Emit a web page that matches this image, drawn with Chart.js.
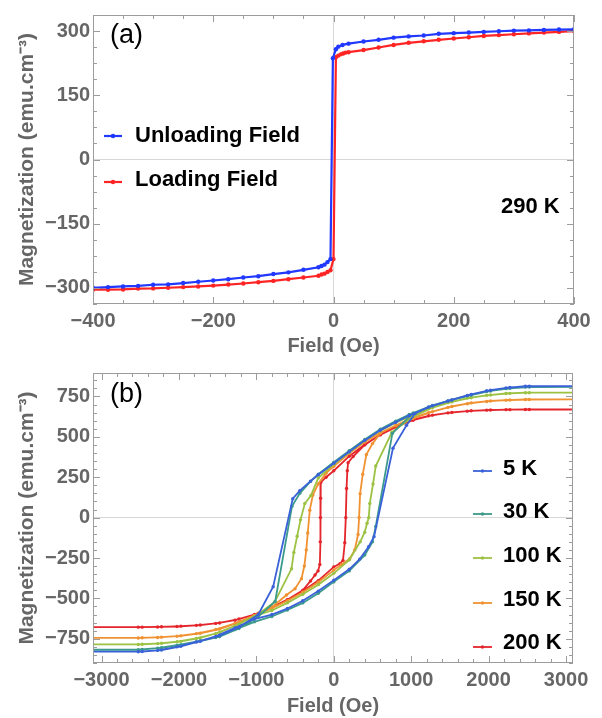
<!DOCTYPE html>
<html>
<head>
<meta charset="utf-8">
<script src="https://cdn.jsdelivr.net/npm/chart.js@4.4.1/dist/chart.umd.min.js"></script>
<style>
  html, body { margin: 0; padding: 0; background: #fff; }
  #wrap { position: relative; width: 602px; height: 718px; }
  canvas { position: absolute; left: 0; }
  #chartA { top: 0; }
  #chartB { top: 358px; }
</style>
</head>
<body>
<div id="wrap">
  <canvas id="chartA" width="602" height="358"></canvas>
  <canvas id="chartB" width="602" height="360"></canvas>
</div>
<script>
const FONT = "'Liberation Sans', Arial, sans-serif";
Chart.defaults.font.family = FONT;

// (a) 290 K loop
const xTicksA = [-400, -200, 0, 200, 400];
const yTicksA = [-300, -150, 0, 150, 300];

const fieldUnload = [400, 375, 350, 325, 300, 275, 250, 225, 200, 175, 150, 125, 100, 75, 50, 25, 15, 8, 4, -1,
  -5, -10, -15, -20, -25, -50, -75, -100, -125, -150, -175, -200, -225, -250, -275, -300, -325, -350, -375, -400];
const momentUnload = [304.5, 304, 303, 302, 301.5, 300, 298.5, 297, 295.5, 294, 290, 288, 285, 280, 276, 271, 268, 264, 258, 237,
  -233, -240, -246, -249, -252, -258, -264, -268, -273, -276, -280, -283, -286, -289, -292, -293, -295.5, -297, -298.5, -300];

const fieldLoad = [-400, -375, -350, -325, -300, -275, -250, -225, -200, -175, -150, -125, -100, -75, -50, -25, -20, -15, -10, -5, 0,
  4, 8, 12, 16, 20, 25, 50, 75, 100, 125, 150, 175, 200, 225, 250, 275, 300, 325, 350, 375, 400];
const momentLoad = [-304.5, -304.5, -304, -302, -301.5, -300, -298.5, -297, -295, -292.5, -290, -287, -284, -280, -276, -272, -269, -267, -263, -259, -233,
  239, 243, 246, 248, 250, 251, 256, 262, 268, 273, 276.5, 280, 283, 286, 289, 291, 293, 295, 297, 298.5, 300.5];

// (b) loops at low temperature, descending branch then ascending branch
const xTicksB = [-3000, -2000, -1000, 0, 1000, 2000, 3000];
const yTicksB = [-750, -500, -250, 0, 250, 500, 750];

const field5K = [4000, 2475, 2225, 1975, 1725, 1475, 1225, 975, 800, 600, 400, 200, 0, -200, -300, -439, -530, -783, -975, -1225, -1475, -1725, -1975, -2225, -2475, -4000,
  -2525, -2275, -2025, -1775, -1525, -1275, -1025, -800, -600, -400, -200, 0, 200, 335, 450, 520, 765, 940, 1050, 1275, 1525, 1775, 2025, 2275, 2525, 4000];
const moment5K = [816, 813, 803, 785, 756, 722, 684, 632, 590, 540, 478, 408, 336, 265, 226, 167, 117, -428, -600, -678, -730, -765, -797, -820, -829, -830,
  -830, -822, -800, -770, -735, -683, -628, -600, -563, -515, -455, -388, -320, -257, -180, -118, 430, 571, 645, 692, 728, 762, 789, 806, 814, 816];

const field30K = [4000, 2475, 2225, 1975, 1725, 1475, 1225, 975, 800, 600, 400, 200, 0, -200, -300, -439, -540, -757, -975, -1225, -1475, -1725, -1975, -2225, -2475, -4000,
  -2525, -2275, -2025, -1775, -1525, -1275, -1025, -800, -600, -400, -200, 0, 200, 400, 500, 542, 757, 1025, 1275, 1525, 1775, 2025, 2275, 2525, 4000];
const moment30K = [810, 808, 798, 781, 755, 722, 685, 638, 597, 547, 484, 414, 342, 268, 224, 150, 70, -519, -612, -686, -737, -764, -788, -806, -816, -818,
  -818, -808, -790, -768, -742, -693, -645, -612, -572, -528, -468, -398, -330, -232, -150, -55, 521, 648, 694, 728, 758, 784, 800, 808, 810];

const field100K = [4000, 2475, 2225, 1975, 1725, 1475, 1225, 975, 800, 600, 400, 200, 0, -200, -295, -374, -430, -473, -516, -546, -761, -975, -1225, -1475, -1725, -1975, -2225, -2475, -4000,
  -2525, -2275, -2025, -1775, -1525, -1275, -1025, -800, -600, -400, -200, 0, 200, 341, 400, 430, 452, 465, 507, 542, 750, 1025, 1275, 1525, 1775, 2025, 2275, 2525, 4000];
const moment100K = [773, 773, 768, 757, 740, 712, 675, 625, 588, 538, 477, 405, 330, 245, 137, 87, -14, -115, -216, -317, -520, -598, -660, -710, -745, -766, -778, -784, -785,
  -785, -780, -768, -748, -718, -670, -610, -575, -528, -475, -415, -345, -262, -150, -90, -35, 0, 87, 208, 319, 528, 625, 680, 716, 742, 759, 769, 773, 773];

const field150K = [4000, 2475, 2225, 1975, 1725, 1475, 1225, 975, 800, 600, 400, 200, 0, -100, -202, -270, -310, -336, -355, -380, -417, -500, -611, -800, -975, -1225, -1475, -1725, -1975, -2225, -2475, -4000,
  -2525, -2275, -2025, -1775, -1525, -1275, -1025, -800, -600, -400, -200, 0, 100, 206, 271, 314, 327, 340, 374, 421, 500, 600, 800, 1025, 1275, 1525, 1775, 2025, 2275, 2525, 4000];
const moment150K = [732, 731, 727, 719, 705, 682, 650, 610, 570, 525, 468, 398, 318, 275, 208, 140, 46, -95, -200, -300, -378, -440, -479, -555, -597, -648, -690, -716, -732, -740, -744, -745,
  -745, -742, -734, -718, -693, -655, -605, -560, -515, -462, -400, -325, -290, -255, -200, -105, 0, 147, 268, 390, 458, 522, 570, 614, 656, 688, 710, 722, 728, 731, 732];

const field200K = [4000, 2475, 2225, 1975, 1725, 1475, 1225, 975, 800, 600, 400, 200, 0, -100, -168, -170, -172, -175, -180, -203, -242, -300, -400, -600, -800, -975, -1225, -1475, -1725, -1975, -2225, -2475, -4000,
  -2525, -2275, -2025, -1775, -1525, -1275, -1025, -800, -600, -400, -200, 0, 80, 119, 142, 155, 165, 175, 185, 250, 400, 600, 800, 1025, 1275, 1525, 1775, 2025, 2275, 2525, 4000];
const moment200K = [669, 669, 668, 665, 659, 648, 630, 600, 560, 512, 452, 380, 290, 250, 218, 120, 0, -150, -290, -330, -355, -392, -450, -508, -555, -592, -628, -652, -665, -672, -676, -678, -678,
  -678, -677, -674, -667, -655, -635, -600, -557, -510, -455, -390, -305, -285, -265, -156, 0, 180, 290, 340, 378, 450, 514, 562, 603, 634, 651, 661, 666, 668, 669, 669];

const fmt = v => String(v).replace('-', '\u2212');
const tickFont = { size: 20, weight: 'bold' };
const zeroLine = c => (c.tick && c.tick.value === 0) ? '#d8d8d8' : 'rgba(0,0,0,0)';

function series(label, xs, ys, color, width, radius) {
  return {
    label: label,
    data: xs.map((x, i) => ({ x: x, y: ys[i] })),
    borderColor: color, backgroundColor: color,
    borderWidth: width, pointRadius: radius, pointBorderWidth: 0,
    showLine: true
  };
}

// frame with inward major/minor ticks on all four sides
const frameTicks = {
  id: 'frameTicks',
  afterDatasetsDraw(chart, args, opts) {
    const { ctx, chartArea: a, scales } = chart;
    const sx = scales.x, sy = scales.y;
    const steps = (s, step) => {
      const out = [];
      for (let v = Math.ceil(s.min / step) * step; v <= s.max; v += step) out.push(v);
      return out;
    };
    ctx.save();
    ctx.strokeStyle = '#9c9c9c';
    ctx.lineWidth = 1;
    ctx.beginPath();
    steps(sx, opts.xMinor).forEach(v => {
      const len = opts.xMajor.includes(v) ? 7 : 4;
      const px = Math.round(sx.getPixelForValue(v)) + 0.5;
      ctx.moveTo(px, a.bottom); ctx.lineTo(px, a.bottom - len);
      ctx.moveTo(px, a.top); ctx.lineTo(px, a.top + len);
    });
    steps(sy, opts.yMinor).forEach(v => {
      const len = opts.yMajor.includes(v) ? 7 : 4;
      const py = Math.round(sy.getPixelForValue(v)) + 0.5;
      ctx.moveTo(a.left, py); ctx.lineTo(a.left + len, py);
      ctx.moveTo(a.right, py); ctx.lineTo(a.right - len, py);
    });
    ctx.stroke();
    ctx.strokeRect(a.left + 0.5, a.top + 0.5, a.right - a.left - 1, a.bottom - a.top - 1);
    ctx.restore();
  }
};

// panel letter, temperature note and the in-plot legend
const panelText = {
  id: 'panelText',
  afterDraw(chart, args, opts) {
    const ctx = chart.ctx;
    ctx.save();
    ctx.textAlign = 'left';
    ctx.textBaseline = 'alphabetic';
    (opts.notes || []).forEach(n => {
      ctx.font = n.font;
      ctx.fillStyle = '#000';
      ctx.fillText(n.text, n.x, n.y);
    });
    const lg = opts.legend;
    lg.rows.forEach((r, i) => {
      const ds = chart.data.datasets[i];
      ctx.strokeStyle = ds.borderColor;
      ctx.lineWidth = ds.borderWidth;
      ctx.beginPath();
      ctx.moveTo(lg.x0, r.y); ctx.lineTo(lg.x1, r.y);
      ctx.stroke();
      ctx.fillStyle = ds.borderColor;
      ctx.beginPath();
      ctx.arc((lg.x0 + lg.x1) / 2, r.y, ds.pointRadius, 0, Math.PI * 2);
      ctx.fill();
      ctx.font = lg.font;
      ctx.fillStyle = '#000';
      ctx.fillText(ds.label, lg.tx, r.base);
    });
    ctx.restore();
  }
};

function panelOptions(p) {
  return {
    responsive: false, animation: false, events: [],
    layout: { padding: { top: p.top, right: p.right, left: 0, bottom: 0 } },
    scales: {
      x: {
        type: 'linear', min: p.xRange[0], max: p.xRange[1],
        afterBuildTicks: s => { s.ticks = p.xTicks.map(v => ({ value: v })); },
        afterFit: s => { s.height = p.xHeight; },
        grid: { color: zeroLine, drawTicks: false },
        border: { display: false },
        ticks: { font: tickFont, color: '#666', padding: 5, maxRotation: 0, autoSkip: false, callback: fmt },
        title: { display: true, text: 'Field (Oe)', font: tickFont, color: '#666', padding: { top: 0, bottom: 0 } }
      },
      y: {
        type: 'linear', min: p.yRange[0], max: p.yRange[1],
        afterBuildTicks: s => { s.ticks = p.yTicks.map(v => ({ value: v })); },
        afterFit: s => { s.width = 93; },
        grid: { color: zeroLine, drawTicks: false },
        border: { display: false },
        ticks: { font: tickFont, color: '#666', padding: 3, autoSkip: false, callback: fmt },
        title: { display: true, text: 'Magnetization (emu.cm\u207B\u00B3)', font: { size: 21, weight: 'bold' }, color: '#666', padding: { top: 15, bottom: 0 } }
      }
    },
    plugins: {
      legend: { display: false },
      tooltip: { enabled: false },
      frameTicks: { xMajor: p.xTicks, yMajor: p.yTicks, xMinor: p.xMinor, yMinor: p.yMinor },
      panelText: { notes: p.notes, legend: p.legend }
    }
  };
}

new Chart(document.getElementById('chartA'), {
  type: 'scatter',
  data: {
    datasets: [
      series('Unloading Field', fieldUnload, momentUnload, '#2038ff', 2.2, 2.2),
      series('Loading Field', fieldLoad, momentLoad, '#ff2424', 2.2, 2.2)
    ]
  },
  options: panelOptions({
    top: 7, right: 28, xHeight: 54,
    xRange: [-400, 400], yRange: [-338, 338],
    xTicks: xTicksA, yTicks: yTicksA, xMinor: 50, yMinor: 37.5,
    notes: [
      { text: '(a)', x: 110, y: 43, font: '27px ' + FONT },
      { text: '290 K', x: 501, y: 213, font: 'bold 22px ' + FONT }
    ],
    legend: {
      x0: 104, x1: 122, tx: 135, font: 'bold 22px ' + FONT,
      rows: [{ y: 136, base: 142 }, { y: 182, base: 186 }]
    }
  }),
  plugins: [frameTicks, panelText]
});

new Chart(document.getElementById('chartB'), {
  type: 'scatter',
  data: {
    datasets: [
      series('5 K', field5K, moment5K, '#3a62d8', 1.8, 1.7),
      series('30 K', field30K, moment30K, '#3c9a8c', 1.8, 1.7),
      series('100 K', field100K, moment100K, '#9cc244', 1.8, 1.7),
      series('150 K', field150K, moment150K, '#f09232', 1.8, 1.7),
      series('200 K', field200K, moment200K, '#e4262c', 1.8, 1.7)
    ]
  },
  options: panelOptions({
    top: 9, right: 29, xHeight: 55,
    xRange: [-3110, 3090], yRange: [-900, 895],
    xTicks: xTicksB, yTicks: yTicksB, xMinor: 200, yMinor: 50,
    notes: [
      { text: '(b)', x: 110, y: 44, font: '27px ' + FONT }
    ],
    legend: {
      x0: 473, x1: 492, tx: 503, font: 'bold 22px ' + FONT,
      rows: [{ y: 113, base: 117 }, { y: 156, base: 160 }, { y: 200, base: 204 }, { y: 245, base: 248 }, { y: 289, base: 291 }]
    }
  }),
  plugins: [frameTicks, panelText]
});
</script>
</body>
</html>
